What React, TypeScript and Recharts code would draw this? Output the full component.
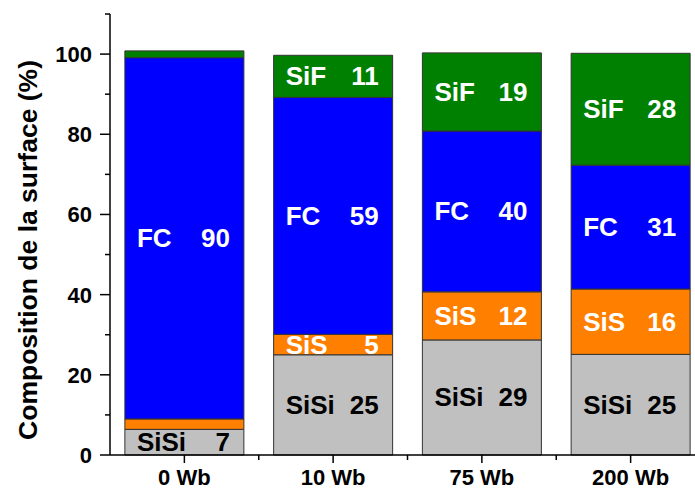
import React from 'react';
import { BarChart, Bar, XAxis, YAxis, LabelList } from 'recharts';

const categories = ['0 Wb', '10 Wb', '75 Wb', '200 Wb'];
const sisi = [6.4, 25.0, 28.7, 25.1];
const sis = [2.6, 5.1, 12.0, 16.3];
const fc = [90.1, 59.1, 40.1, 30.9];
const sif = [1.7, 10.5, 19.5, 27.9];

// numbers printed inside the bars (null = no label)
const sisiLabels = [7, 25, 29, 25];
const sisLabels = [null, 5, 12, 16];
const fcLabels = [90, 59, 40, 31];
const sifLabels = [null, 11, 19, 28];

const yTicks = [0, 10, 20, 30, 40, 50, 60, 70, 80, 90, 100, 110];

const data = categories.map((cat, i) => ({
  cat,
  SiSi: sisi[i],
  SiS: sis[i],
  FC: fc[i],
  SiF: sif[i],
  SiSiLbl: sisiLabels[i],
  SiSLbl: sisLabels[i],
  FCLbl: fcLabels[i],
  SiFLbl: sifLabels[i],
}));

const FONT = "'Liberation Sans', Arial, sans-serif";
const CHART_W = 710;
const CHART_H = 492;
const MARGIN = { top: 14, right: 5, bottom: 0, left: 0 };
const Y_AXIS_W = 110;
const BAND = (CHART_W - MARGIN.left - MARGIN.right - Y_AXIS_W) / categories.length;

const YTick = ({ x, y, payload }: any) => {
  const major = payload.value % 20 === 0 && payload.value <= 100;
  return (
    <g>
      <line x1={x - (major ? 10 : 5)} x2={x} y1={y} y2={y} stroke="#000" strokeWidth={1.5} />
      {major && (
        <text x={x - 18} y={y + 8} textAnchor="end" fontFamily={FONT} fontWeight="bold" fontSize={22} fill="#000">
          {payload.value}
        </text>
      )}
    </g>
  );
};

const XTick = ({ x, y, payload }: any) => (
  <g>
    <line x1={x} x2={x} y1={y} y2={y + 8} stroke="#000" strokeWidth={1.5} />
    <line x1={x + BAND / 2} x2={x + BAND / 2} y1={y} y2={y + 5} stroke="#000" strokeWidth={1.5} />
    <text x={x} y={y + 30} textAnchor="middle" fontFamily={FONT} fontWeight="bold" fontSize={22} fill="#000">
      {payload.value}
    </text>
  </g>
);

const segLabel = (name: string, color: string) => (props: any) => {
  const { x, y, width, height, value } = props;
  if (value === null || value === undefined) return null;
  const cy = y + height / 2 + 9;
  return (
    <g>
      <text x={x + 12} y={cy} textAnchor="start" fontFamily={FONT} fontWeight="bold" fontSize={26} fill={color}>
        {name}
      </text>
      <text x={x + width - 14} y={cy} textAnchor="end" fontFamily={FONT} fontWeight="bold" fontSize={26} fill={color}>
        {value}
      </text>
    </g>
  );
};

const YLabel = () => (
  <text
    x={37}
    y={250}
    transform="rotate(-90 37 250)"
    textAnchor="middle"
    fontFamily={FONT}
    fontWeight="bold"
    fontSize={26.5}
    fill="#000"
  >
    Composition de la surface (%)
  </text>
);

const App: React.FC = () => {
  return (
    <div
      style={{
        position: 'absolute',
        left: 0,
        top: 0,
        width: 695,
        height: 492,
        overflow: 'hidden',
        background: '#fff',
      }}
    >
      <BarChart width={CHART_W} height={CHART_H} data={data} margin={MARGIN} barCategoryGap="10%">
        <XAxis
          dataKey="cat"
          height={37}
          axisLine={{ stroke: '#000', strokeWidth: 1.5 }}
          tickLine={false}
          tickSize={0}
          tickMargin={0}
          tick={<XTick />}
          interval={0}
        />
        <YAxis
          width={Y_AXIS_W}
          domain={[0, 110]}
          ticks={yTicks}
          interval={0}
          axisLine={{ stroke: '#000', strokeWidth: 1.5 }}
          tickLine={false}
          tickSize={0}
          tickMargin={0}
          tick={<YTick />}
          label={<YLabel />}
        />
        <Bar dataKey="SiSi" stackId="a" fill="#C0C0C0" stroke="#333" strokeWidth={1} isAnimationActive={false}>
          <LabelList dataKey="SiSiLbl" content={segLabel('SiSi', '#000')} />
        </Bar>
        <Bar dataKey="SiS" stackId="a" fill="#FF8000" stroke="#333" strokeWidth={1} isAnimationActive={false}>
          <LabelList dataKey="SiSLbl" content={segLabel('SiS', '#fff')} />
        </Bar>
        <Bar dataKey="FC" stackId="a" fill="#0000FF" stroke="#333" strokeWidth={1} isAnimationActive={false}>
          <LabelList dataKey="FCLbl" content={segLabel('FC', '#fff')} />
        </Bar>
        <Bar dataKey="SiF" stackId="a" fill="#008000" stroke="#333" strokeWidth={1} isAnimationActive={false}>
          <LabelList dataKey="SiFLbl" content={segLabel('SiF', '#fff')} />
        </Bar>
      </BarChart>
    </div>
  );
};

export default App;
